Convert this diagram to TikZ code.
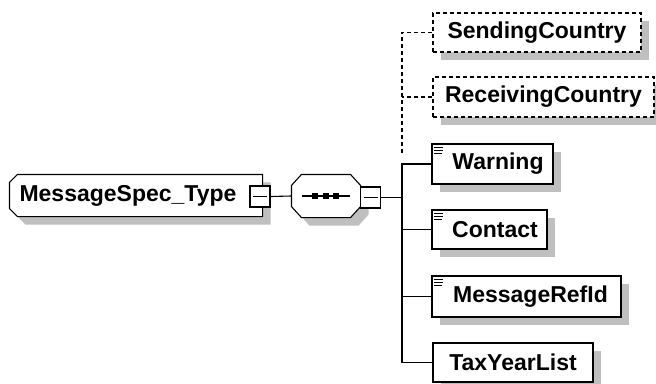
\documentclass[tikz,border=0pt]{standalone}
\usepackage{fontspec}
\setmainfont{Liberation Sans}
\usetikzlibrary{shadows}

\begin{document}
\begin{tikzpicture}[x=1pt,y=-1pt,line width=1.1pt,
  shade/.style={drop shadow={shadow xshift=8pt,shadow yshift=-8pt,fill=black!25,opacity=1}},
  label font/.style={font=\fontsize{23}{27}\selectfont\bfseries},
  elem/.style={draw,fill=white,shade,rectangle,inner sep=0pt,label font},
  optelem/.style={elem,dash pattern=on 4pt off 3pt},
  bare/.style={rectangle,inner sep=0pt,label font},
  collapse/.style={draw,fill=white,rectangle,inner sep=0pt,minimum width=20pt,minimum height=21pt},
  shadowfill/.style={fill=black!25,draw=none,transform canvas={xshift=8pt,yshift=-8pt}}]

\useasboundingbox (0,0) rectangle (656,383);

\newcommand{\docicon}[1]{%
  \draw[line width=1pt] ([shift={(3pt,-4pt)}]#1.north west) -- ++(9,0)
    ([shift={(3pt,-6.8pt)}]#1.north west) -- ++(9,0)
    ([shift={(3pt,-9.6pt)}]#1.north west) -- ++(8,0);}
% left-chamfered outline of a complex type
\newcommand{\typepath}[1]{([xshift=8pt]#1.north west) -- (#1.north east) -- (#1.south east)
  -- ([xshift=8pt]#1.south west) -- ([yshift=8pt]#1.south west)
  -- ([yshift=-8pt]#1.north west) -- cycle}
% octagon of a compositor
\newcommand{\octpath}[1]{([xshift=10pt]#1.north west) -- ([xshift=-10pt]#1.north east)
  -- ([yshift=-11pt]#1.north east) -- ([yshift=11pt]#1.south east)
  -- ([xshift=-10pt]#1.south east) -- ([xshift=10pt]#1.south west)
  -- ([yshift=11pt]#1.south west) -- ([yshift=-11pt]#1.north west) -- cycle}

% the type and its sequence
\node[bare,minimum width=252pt,minimum height=41pt] (msgtype) at (136,195.5) {};
\fill[shadowfill] \typepath{msgtype};
\draw[fill=white] \typepath{msgtype};
\node[bare] (msgtext) at (128,195.5) {MessageSpec\_Type};
\node[collapse] (typeminus) at (260,196.5) {};
\draw ([xshift=-7pt]typeminus.center) -- ([xshift=7pt]typeminus.center);

\node[bare,minimum width=68pt,minimum height=42pt] (seq) at (326,196) {};
\fill[shadowfill] \octpath{seq};
\draw[fill=white] \octpath{seq};
\draw ([xshift=-24pt]seq.center) -- ([xshift=24pt]seq.center);
\foreach \dx in {-11,0,10}
  \fill ([xshift=\dx pt]seq.center) +(-2.8,-2.8) rectangle +(2.8,2.8);
\node[collapse] (seqminus) at (370.5,197.5) {};
\draw ([xshift=-7pt]seqminus.center) -- ([xshift=7pt]seqminus.center);

\draw (typeminus.east) -- (seq.west);

% children
\node[optelem,minimum width=208pt,minimum height=39pt] (sending) at (537,32.5) {SendingCountry};
\node[optelem,minimum width=221pt,minimum height=40pt] (receiving) at (543.5,97) {ReceivingCountry};
\node[elem,minimum width=121pt,minimum height=40pt] (warning) at (492.5,164) {\hspace{11pt}Warning};
\node[elem,minimum width=115pt,minimum height=39pt] (contact) at (489.5,229.5) {\hspace{11pt}Contact};
\node[elem,minimum width=189pt,minimum height=41pt] (refid) at (526.5,296.5) {\hspace{8pt}MessageRefId};
\node[elem,minimum width=160pt,minimum height=39pt] (taxyear) at (513,362.5) {TaxYearList};

\docicon{warning}
\docicon{contact}
\docicon{refid}

\coordinate (trunk) at (402,0);

\draw (seqminus.east) -- (seqminus.east -| trunk);
\draw[dash pattern=on 4pt off 3pt] (sending.west) -- (sending.west -| trunk) -- ([yshift=10pt]warning.west -| trunk);
\draw[dash pattern=on 4pt off 3pt] (receiving.west) -- (receiving.west -| trunk);
\draw (warning.west) -- (warning.west -| trunk) -- (taxyear.west -| trunk) -- (taxyear.west);
\draw (contact.west) -- (contact.west -| trunk);
\draw (refid.west) -- (refid.west -| trunk);

\end{tikzpicture}
\end{document}
